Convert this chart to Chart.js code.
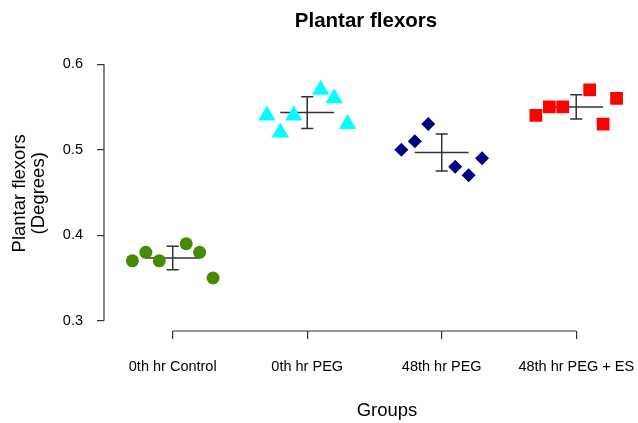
<!DOCTYPE html>
<html>
<head>
<meta charset="utf-8">
<script src="https://cdn.jsdelivr.net/npm/chart.js@4.4.1/dist/chart.umd.min.js"></script>
<style>
    html, body { margin: 0; padding: 0; background: #fff; }
    #wrap { width: 638px; height: 423px; }
</style>
</head>
<body>
<div id="wrap"><canvas id="chart"></canvas></div>
<script>
// groups on the x axis
var groups = ["0th hr Control", "0th hr PEG", "48th hr PEG", "48th hr PEG + ES"];
// horizontal jitter of each of the six points (category units)
var jitter = [-0.3, -0.2, -0.1, 0.1, 0.2, 0.3];
// values
var control0 = [0.37, 0.38, 0.37, 0.39, 0.38, 0.35];
var peg0 = [0.54, 0.52, 0.54, 0.57, 0.56, 0.53];
var peg48 = [0.50, 0.51, 0.53, 0.48, 0.47, 0.49];
var pegEs48 = [0.54, 0.55, 0.55, 0.57, 0.53, 0.56];
var yTicks = [0.3, 0.4, 0.5, 0.6];

var seriesList = [control0, peg0, peg48, pegEs48];
var colors = ["#458B00", "#00FFFF", "#000080", "#FF0000"];
var shapes = ["circle", "triangle", "rectRot", "rect"];
var radii = [6.5, 10, 7, 9];

function mean(a) {
    var s = 0;
    for (var i = 0; i < a.length; i++) s += a[i];
    return s / a.length;
}
function sd(a) {
    var m = mean(a), s = 0;
    for (var i = 0; i < a.length; i++) s += (a[i] - m) * (a[i] - m);
    return Math.sqrt(s / (a.length - 1));
}

var datasets = [];
for (var g = 0; g < seriesList.length; g++) {
    var pts = [];
    for (var i = 0; i < seriesList[g].length; i++) {
        pts.push({x: g + 1 + jitter[i], y: seriesList[g][i]});
    }
    datasets.push({
        data: pts,
        pointStyle: shapes[g],
        pointRadius: radii[g],
        pointHoverRadius: radii[g],
        backgroundColor: colors[g],
        borderColor: colors[g],
        borderWidth: 0,
        showLine: false,
        order: 0
    });
}

// mean line and SD bars
var gap = {x: null, y: null};
var bars = [];
for (var g = 0; g < seriesList.length; g++) {
    var c = g + 1, m = mean(seriesList[g]), s = sd(seriesList[g]);
    bars.push({x: c - 0.2, y: m}, {x: c + 0.2, y: m}, gap);
    bars.push({x: c, y: m - s}, {x: c, y: m + s}, gap);
    bars.push({x: c - 0.045, y: m - s}, {x: c + 0.045, y: m - s}, gap);
    bars.push({x: c - 0.045, y: m + s}, {x: c + 0.045, y: m + s}, gap);
}
datasets.push({
    data: bars,
    showLine: true,
    spanGaps: false,
    borderColor: "#333",
    borderWidth: 1.5,
    pointRadius: 0,
    pointHoverRadius: 0,
    order: 1
});

// R style axis lines (only between first and last tick) and the x title
var axisLines = {
    id: "axisLines",
    afterDraw: function(chart) {
        var ctx = chart.ctx, xs = chart.scales.x, ys = chart.scales.y;
        ctx.save();
        ctx.strokeStyle = "#333";
        ctx.lineWidth = 1.2;
        ctx.beginPath();
        ctx.moveTo(ys.left + ys.width, ys.getPixelForValue(yTicks[0]));
        ctx.lineTo(ys.left + ys.width, ys.getPixelForValue(yTicks[yTicks.length - 1]));
        ctx.moveTo(xs.getPixelForValue(1), xs.top);
        ctx.lineTo(xs.getPixelForValue(groups.length), xs.top);
        ctx.stroke();

        ctx.fillStyle = "#000";
        ctx.font = "18.5px 'Liberation Sans', Arial, sans-serif";
        ctx.textAlign = "center";
        ctx.textBaseline = "middle";
        ctx.fillText("Groups", (chart.chartArea.left + chart.chartArea.right) / 2 + 21, xs.bottom - 12);
        ctx.restore();
    }
};

Chart.defaults.font.family = "'Liberation Sans', Arial, sans-serif";
Chart.defaults.color = "#000";

new Chart(document.getElementById("chart"), {
    type: "scatter",
    data: { datasets: datasets },
    plugins: [axisLines],
    options: {
        responsive: true,
        maintainAspectRatio: false,
        animation: false,
        layout: { padding: { left: 0, right: 8, top: 0, bottom: 0 } },
        plugins: {
            legend: { display: false },
            tooltip: { enabled: false },
            title: {
                display: true,
                text: "Plantar flexors",
                fullSize: false,
                font: { size: 20.5, weight: "bold" },
                padding: { top: 9, bottom: 22 }
            }
        },
        scales: {
            x: {
                type: "linear",
                min: 0.489,
                max: 4.385,
                afterFit: function(scale) {
                    scale.height = 92;
                    scale.paddingLeft = 0;
                    scale.paddingRight = 0;
                },
                afterBuildTicks: function(scale) {
                    scale.ticks = groups.map(function(n, i) { return {value: i + 1}; });
                },
                ticks: {
                    font: { size: 14.5 },
                    padding: 19,
                    maxRotation: 0,
                    autoSkip: false,
                    callback: function(v) { return groups[v - 1]; }
                },
                grid: { drawOnChartArea: false, drawTicks: true, tickLength: 8, color: "#333", lineWidth: 1.2 },
                border: { display: false }
            },
            y: {
                min: 0.288,
                max: 0.61,
                afterFit: function(scale) { scale.width = 104; },
                afterBuildTicks: function(scale) {
                    scale.ticks = yTicks.map(function(v) { return {value: v}; });
                },
                ticks: {
                    font: { size: 14.5 },
                    padding: 14,
                    callback: function(v) { return v.toFixed(1); }
                },
                grid: { drawOnChartArea: false, drawTicks: true, tickLength: 7, color: "#333", lineWidth: 1.2 },
                border: { display: false },
                title: {
                    display: true,
                    text: ["Plantar flexors", "(Degrees)"],
                    font: { size: 18.5, lineHeight: 1.05 },
                    padding: { top: 10, bottom: 0 }
                }
            }
        }
    }
});
</script>
</body>
</html>
